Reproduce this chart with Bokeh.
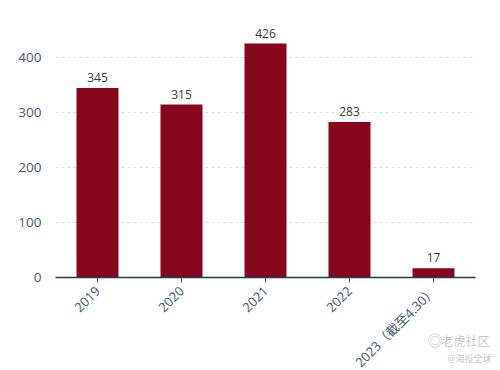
import math
from bokeh.plotting import figure
from bokeh.models import ColumnDataSource, Label
from bokeh.core.properties import value
from bokeh.embed import file_html
from bokeh.resources import INLINE

categories = ["2019", "2020", "2021", "2022", "2023（截至4.30）"]
values = [345, 315, 426, 283, 17]
y_ticks = [0, 100, 200, 300, 400]

FONT = "'Open Sans', 'Noto Sans CJK SC', sans-serif"
src = ColumnDataSource(dict(cat=categories, val=values, lab=[str(v) for v in values]))

p = figure(x_range=categories, y_range=(0, 468), width=500, height=370,
           frame_width=420, frame_height=257,
           output_backend="svg", toolbar_location=None,
           min_border_left=55, min_border_right=25, min_border_top=20, min_border_bottom=60)
p.outline_line_color = None
p.background_fill_color = "white"
p.border_fill_color = "white"

p.vbar(x="cat", top="val", width=0.5, bottom=0, source=src, fill_color="#86061e", line_color=None)
p.text(x="cat", y="val", text="lab", source=src, text_align="center", text_baseline="bottom",
       y_offset=-6, text_font=value(FONT), text_font_size="12px", text_color="#3a3a3a")

p.xgrid.visible = False
p.ygrid.grid_line_color = "#dcdfe3"
p.ygrid.grid_line_dash = "3 3"
p.ygrid.grid_line_width = 1

p.yaxis.ticker = y_ticks
p.yaxis.axis_line_color = None
p.yaxis.major_tick_line_color = None
p.yaxis.minor_tick_line_color = None
p.yaxis.major_label_text_font = FONT
p.yaxis.major_label_text_font_size = "13.5px"
p.yaxis.major_label_text_color = "#3f5670"
p.yaxis.major_label_standoff = 8

p.xaxis.axis_line_color = "#1b3a5c"
p.xaxis.axis_line_width = 1.5
p.xaxis.major_tick_line_color = "#3a4a5c"
p.xaxis.major_tick_in = 0
p.xaxis.major_tick_out = 5
p.xaxis.minor_tick_line_color = None
p.xaxis.major_label_orientation = math.pi / 4
p.xaxis.major_label_text_font = FONT
p.xaxis.major_label_text_font_size = "13px"
p.xaxis.major_label_text_color = "#3f5670"
p.xaxis.major_label_standoff = 6

for x, y, text, size in [(372, 61, "◎", "15px"), (386, 76, "老虎社区", "12px"), (392, 72, "@海投全球", "9px")]:
    p.add_layout(Label(x=x, y=y, x_units="screen", y_units="screen", text=text, level="overlay",
                       text_font=FONT, text_font_size=size, text_color="#c8c8c8",
                       text_align="left", text_baseline="middle"), "below")

open("out.html", "w").write(file_html(p, INLINE))
